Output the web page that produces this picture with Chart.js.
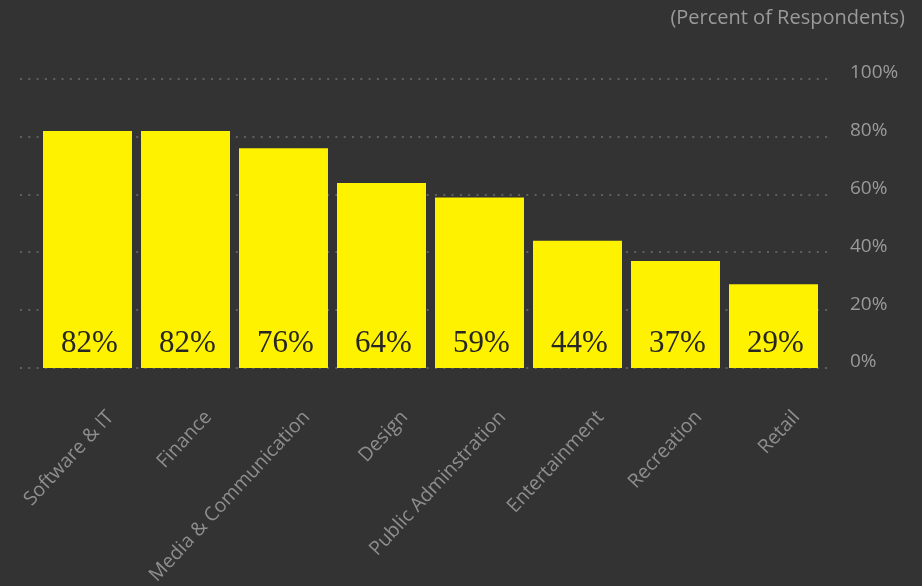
<!DOCTYPE html>
<html>
<head>
<meta charset="utf-8">
<script src="https://cdn.jsdelivr.net/npm/chart.js@4.4.0/dist/chart.umd.min.js"></script>
<style>
  html, body { margin: 0; padding: 0; background: #333333; }
  #wrap { width: 922px; height: 586px; }
</style>
</head>
<body>
<div id="wrap"><canvas id="myChart" width="922" height="586"></canvas></div>
<script>
const industries = ["Software & IT", "Finance", "Media & Communication", "Design", "Public Adminstration", "Entertainment", "Recreation", "Retail"];
const respondents = [82, 82, 76, 64, 59, 44, 37, 29];
const yTicks = [0, 20, 40, 60, 80, 100];
const unitNote = "(Percent of Respondents)";

const chartContainer = document.getElementById("myChart");

// dotted grid lines that run a little past the bars on both sides
const dottedGrid = {
  id: "dottedGrid",
  beforeDatasetsDraw(chart) {
    const { ctx, chartArea, scales } = chart;
    ctx.save();
    ctx.strokeStyle = "#5f5f5f";
    ctx.lineWidth = 2;
    ctx.setLineDash([2, 6.3]);
    yTicks.forEach(v => {
      const py = Math.round(scales.y.getPixelForValue(v));
      ctx.beginPath();
      ctx.moveTo(chartArea.left - 18.5, py);
      ctx.lineTo(chartArea.right + 11, py);
      ctx.stroke();
    });
    ctx.restore();
  }
};

// value labels at the foot of each bar + the unit note top right
const barLabels = {
  id: "barLabels",
  afterDatasetsDraw(chart) {
    const { ctx, scales } = chart;
    const base = scales.y.getPixelForValue(0);
    ctx.save();
    ctx.fillStyle = "#262626";
    ctx.font = "31px 'Liberation Serif'";
    ctx.textAlign = "center";
    ctx.textBaseline = "alphabetic";
    chart.getDatasetMeta(0).data.forEach((bar, i) => {
      ctx.fillText(respondents[i] + "%", bar.x + 2, base - 16);
    });
    ctx.fillStyle = "#9a9a9a";
    ctx.font = "20px 'Open Sans'";
    ctx.textAlign = "right";
    ctx.textBaseline = "middle";
    ctx.fillText(unitNote, chart.width - 17, 18);
    ctx.restore();
  }
};

const chart = new Chart(chartContainer, {
  type: "bar",
  data: {
    labels: industries,
    datasets: [{
      data: respondents,
      backgroundColor: "#fff200",
      borderWidth: 0,
      barPercentage: 0.908,
      categoryPercentage: 1
    }]
  },
  options: {
    responsive: false,
    animation: false,
    devicePixelRatio: 1,
    layout: { padding: { left: 38.5, right: 0, top: 79, bottom: 0 } },
    plugins: { legend: { display: false }, tooltip: { enabled: false } },
    scales: {
      x: {
        grid: { display: false, drawTicks: false },
        border: { display: false },
        ticks: {
          color: "#8e8e8e",
          font: { family: "'Open Sans'", size: 19.5 },
          maxRotation: 47,
          minRotation: 47,
          labelOffset: 23,
          padding: 38
        },
        afterFit(scale) {
          scale.height = 218;
          scale.paddingLeft = 0;
          scale.paddingRight = 0;
        }
      },
      y: {
        position: "right",
        min: 0,
        max: 100,
        grid: { display: false, drawTicks: false },
        border: { display: false },
        afterBuildTicks(scale) { scale.ticks = yTicks.map(v => ({ value: v })); },
        afterFit(scale) {
          scale.width = 99.5;
          scale.paddingTop = 0;
          scale.paddingBottom = 0;
        },
        ticks: {
          color: "#9a9a9a",
          font: { family: "'Open Sans'", size: 19 },
          padding: 27.5,
          labelOffset: -6,
          callback: v => v + "%"
        }
      }
    }
  },
  plugins: [dottedGrid, barLabels]
});
</script>
</body>
</html>
